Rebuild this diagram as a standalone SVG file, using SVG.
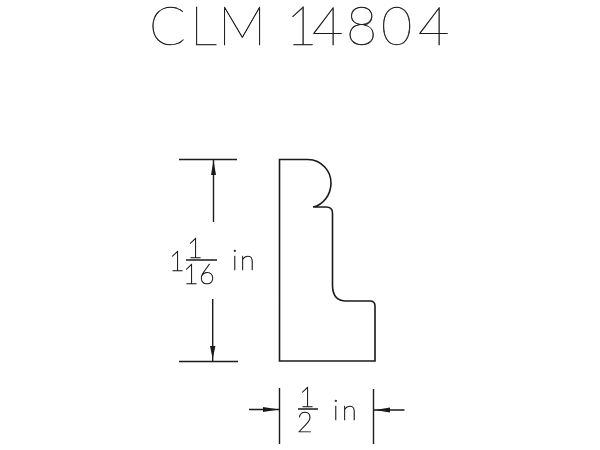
<svg xmlns="http://www.w3.org/2000/svg" width="600" height="450" viewBox="0 0 600 450">
<style>
.l{fill:none;stroke:#1a1a1a;stroke-width:1.4}
.p{fill:none;stroke:#1a1a1a;stroke-width:1.6}
.a{fill:#1a1a1a;stroke:none}
text{font-family:"Lato","Liberation Sans",sans-serif;font-weight:100;fill:#1a1a1a;stroke:#1a1a1a}
.t{font-size:54px;stroke-width:.5}
.m{font-size:27px;stroke-width:.7}
.g{filter:url(#n)}
</style>
<defs><filter id="n" x="0" y="0" width="1" height="1" filterUnits="objectBoundingBox" color-interpolation-filters="sRGB"><feOffset dx="0" dy="0"/></filter></defs>
<rect width="600" height="450" fill="#fff"/>
<g id="title"><text class="t" x="149 190 218 265 286 312 346 381 418" y="44.500">CLM 14804</text></g>
<g id="profile"><path class="p" d="M279.500 159.500H308C322 160 331 171 331 183C331 195 323 205 313 207H326Q332.500 207 332.500 213V286Q333 301 346 301H370Q375 301 375 306V361H279.500Z"/></g>
<g id="connectors">
<path class="l" d="M179 159.500H237M179 361.500H238M213.500 160V222M212.700 299V361"/>
<path class="a" d="M213.500 160L216 175H211ZM212.700 359L210 346H215.400Z"/>
<path class="l" d="M186 260H217M279.500 388V444M373.500 389V444M249 409.500H280M374 410H404.500M298 409H318"/>
<path class="a" d="M279 409.500L263 407V412ZM375 410L390 407.500V412.500Z"/>
</g>
<g id="height-label" class="g"><text class="m" x="169" y="271">1</text><text class="m" x="187" y="258">1</text><text class="m" x="183 199" y="284">16</text><text class="m" x="232 240" y="270">in</text></g>
<g id="width-label" class="g"><text class="m" x="299" y="407">1</text><text class="m" x="297" y="432">2</text><text class="m" x="333 342" y="420">in</text></g>
</svg>
